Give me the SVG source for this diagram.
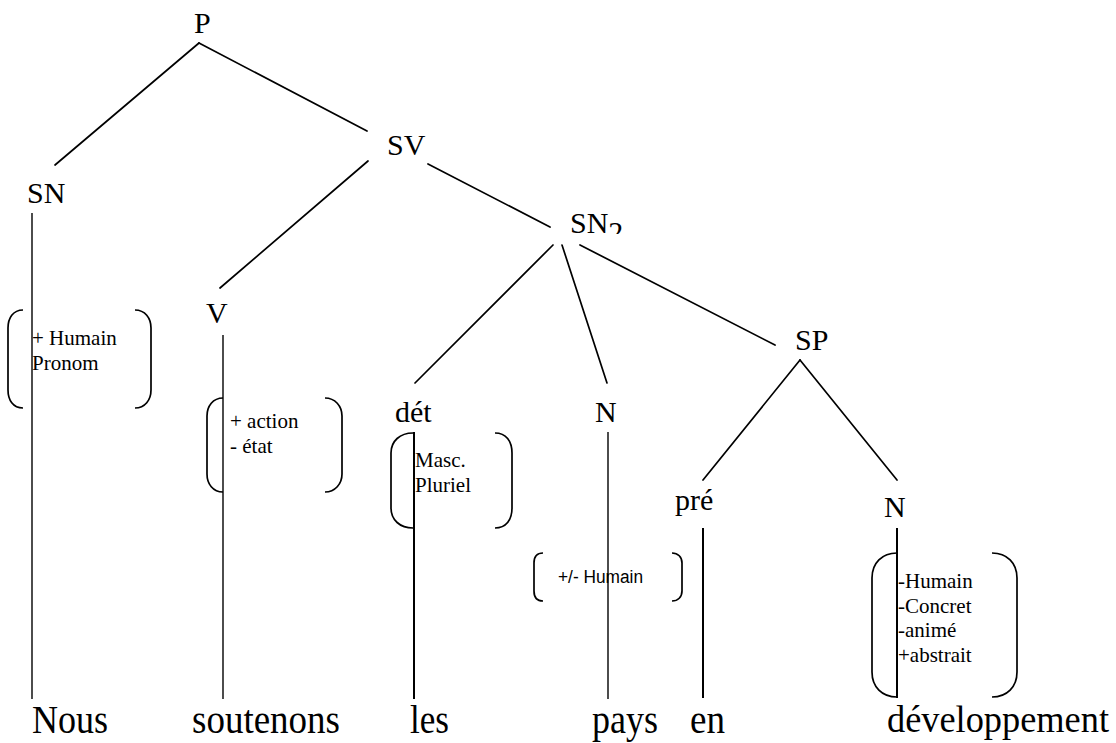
<svg xmlns="http://www.w3.org/2000/svg" width="1116" height="743" viewBox="0 0 1116 743">
<style>
.lbl{font-size:30px;fill:#000}
.word{font-size:40px;fill:#000}
.feat{font-size:21px;fill:#000}
.feats{font-size:18px;fill:#000}
.edge{stroke:#000;stroke-width:1.7;fill:none;stroke-linecap:round}
.stem{stroke:#000;stroke-width:1.4;fill:none}
.stem2{stroke:#000;stroke-width:2;fill:none}
.br{stroke:#000;stroke-width:1.7;fill:none}
</style>
<defs>
<clipPath id="subclip"><rect x="560" y="195" width="70" height="39"/></clipPath>
</defs>
<rect width="1116" height="743" fill="#fff"/>
<g id="connectors">
<line class="edge" x1="199" y1="43" x2="55" y2="165"/>
<line class="edge" x1="199" y1="43" x2="367" y2="131"/>
<line class="edge" x1="368" y1="161" x2="220" y2="288"/>
<line class="edge" x1="428" y1="164" x2="550" y2="227"/>
<line class="edge" x1="553" y1="245" x2="415" y2="383"/>
<line class="edge" x1="562" y1="245" x2="607" y2="383"/>
<line class="edge" x1="580" y1="245" x2="775" y2="345"/>
<line class="edge" x1="800" y1="360" x2="703" y2="480"/>
<line class="edge" x1="800" y1="360" x2="897" y2="480"/>
<line class="stem" x1="32" y1="213" x2="32" y2="699"/>
<line class="stem" x1="223" y1="335" x2="223" y2="699"/>
<line class="stem2" x1="414" y1="432" x2="414" y2="699"/>
<line class="stem" x1="608" y1="432" x2="608" y2="699"/>
<line class="stem2" x1="703" y1="528" x2="703" y2="698"/>
<line class="stem2" x1="897" y1="528" x2="897" y2="698"/>
</g>
<g font-family="Liberation Serif, Tinos, Times New Roman, Noto Serif, DejaVu Serif, serif">
<g id="node-P"><text class="lbl" x="194" y="33">P</text></g>
<g id="node-SV"><text class="lbl" x="387" y="155">SV</text></g>
<g id="node-SN">
<text class="lbl" x="27" y="203">SN</text>
<path class="br" d="M23,310 C13,310 8,318 8,328 L8,390 C8,400 13,408 23,408"/>
<path class="br" d="M135,310 C145,310 151,318 151,328 L151,390 C151,400 145,408 135,408"/>
<text class="feat" x="32" y="345">+ Humain</text>
<text class="feat" x="32" y="370">Pronom</text>
</g>
<g id="node-SN2">
<text class="lbl" x="570" y="233" clip-path="url(#subclip)">SN<tspan dy="9">2</tspan></text>
</g>
<g id="node-V">
<text class="lbl" x="206" y="323">V</text>
<path class="br" d="M223,398 C213,398 207,406 207,416 L207,474 C207,484 213,492 223,492"/>
<path class="br" d="M325,398 C335,398 342,406 342,416 L342,474 C342,484 335,492 325,492"/>
<text class="feat" x="230" y="428">+ action</text>
<text class="feat" x="230" y="453">- état</text>
</g>
<g id="node-det">
<text class="lbl" x="395" y="422">dét</text>
<path class="br" d="M413,433 C400,433 391,441 391,453 L391,508 C391,520 400,528 413,528"/>
<path class="br" d="M495,433 C506,433 512,441 512,453 L512,508 C512,520 506,528 495,528"/>
<text class="feat" x="415" y="467">Masc.</text>
<text class="feat" x="415" y="492">Pluriel</text>
</g>
<g id="node-N1">
<text class="lbl" x="595" y="422">N</text>
<path class="br" d="M543,553 C537,553 534,557 534,563 L534,591 C534,597 537,601 543,601"/>
<path class="br" d="M672,553 C678,553 682,557 682,563 L682,591 C682,597 678,601 672,601"/>
<text class="feats" x="558" y="583" font-family="Liberation Sans, Arimo, Arial, sans-serif" textLength="85" lengthAdjust="spacingAndGlyphs">+/- Humain</text>
</g>
<g id="node-SP"><text class="lbl" x="795" y="350">SP</text></g>
<g id="node-pre"><text class="lbl" x="675" y="510">pré</text></g>
<g id="node-N2">
<text class="lbl" x="884" y="517">N</text>
<path class="br" d="M897,553 C882,553 872,563 872,578 L872,672 C872,687 882,697 897,697"/>
<path class="br" d="M992,553 C1007,553 1017,563 1017,578 L1017,672 C1017,687 1007,697 992,697"/>
<text class="feat" x="898" y="588">-Humain</text>
<text class="feat" x="898" y="613">-Concret</text>
<text class="feat" x="898" y="637">-animé</text>
<text class="feat" x="898" y="662">+abstrait</text>
</g>
<g id="words">
<text class="word" x="32" y="733" textLength="76" lengthAdjust="spacingAndGlyphs">Nous</text>
<text class="word" x="192" y="733" textLength="148" lengthAdjust="spacingAndGlyphs">soutenons</text>
<text class="word" x="410" y="733" textLength="39" lengthAdjust="spacingAndGlyphs">les</text>
<text class="word" x="592" y="733" textLength="66" lengthAdjust="spacingAndGlyphs">pays</text>
<text class="word" x="690" y="733" textLength="35" lengthAdjust="spacingAndGlyphs">en</text>
<text class="word" x="887" y="732" style="font-size:37px" textLength="222" lengthAdjust="spacingAndGlyphs">développement</text>
</g>
</g>
</svg>
